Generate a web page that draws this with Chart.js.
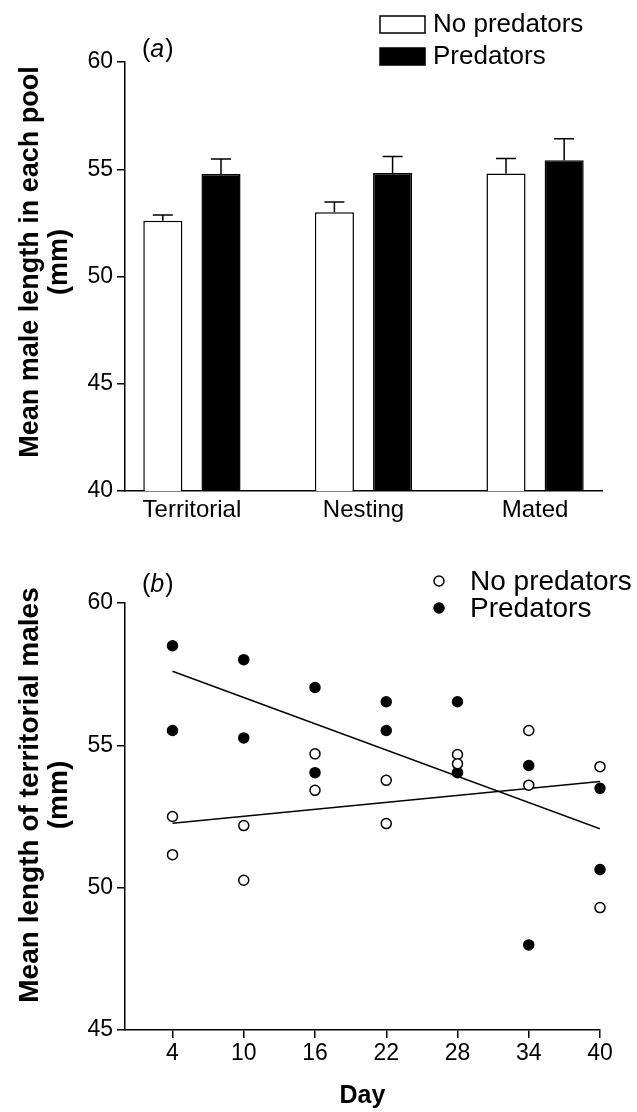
<!DOCTYPE html>
<html>
<head>
<meta charset="utf-8">
<script src="https://cdn.jsdelivr.net/npm/chart.js@4.4.0/dist/chart.umd.min.js"></script>
<style>
  html, body { margin: 0; padding: 0; background: #fff; }
  #caixaA { position: absolute; left: 0; top: 0; width: 637px; height: 545px; }
  #caixaB { position: absolute; left: 0; top: 555px; width: 637px; height: 557px; }
</style>
</head>
<body>
<div id="caixaA"><canvas id="graficoA"></canvas></div>
<div id="caixaB"><canvas id="graficoB"></canvas></div>
<script>
// painel (a): comprimento médio por categoria
const categorias = ["Territorial", "Nesting", "Mated"];
const mediaSemPredador = [52.6, 53.0, 54.8];
const erroSemPredador = [0.27, 0.47, 0.7];
const mediaComPredador = [54.78, 54.83, 55.42];
const erroComPredador = [0.7, 0.77, 1.0];

// painel (b): dois pontos por dia
const dias = [4, 10, 16, 22, 28, 34, 40];
const semPredador1 = [52.5, 52.18, 54.7, 53.77, 54.68, 55.52, 54.25];
const semPredador2 = [51.16, 50.26, 53.42, 52.25, 54.35, 53.6, 49.3];
const comPredador1 = [58.5, 58.01, 57.03, 56.53, 56.53, 54.29, 53.49];
const comPredador2 = [55.52, 55.26, 54.04, 55.52, 54.04, 47.99, 50.64];
// retas de regressao (dia 4 e dia 40)
const diasReta = [4, 40];
const retaSemPredador = [52.26, 53.73];
const retaComPredador = [57.6, 52.07];

const FONTE = '"Liberation Sans", Arial, Helvetica, sans-serif';
const borda = { display: true, color: "#000", width: 1.5 };

function pontos(xs, ...series) {
  const lista = [];
  series.forEach(s => xs.forEach((x, i) => lista.push({ x: x, y: s[i] })));
  return lista;
}

// barras de erro (so para cima, com traco no topo)
const barrasErro = {
  id: "barrasErro",
  afterDatasetsDraw(chart) {
    const { ctx } = chart;
    const y = chart.scales.y;
    ctx.save();
    ctx.strokeStyle = "#000";
    ctx.lineWidth = 1.5;
    chart.data.datasets.forEach((ds, i) => {
      chart.getDatasetMeta(i).data.forEach((barra, j) => {
        const topo = y.getPixelForValue(ds.data[j].y + ds.erros[j]);
        ctx.beginPath();
        ctx.moveTo(barra.x, barra.y);
        ctx.lineTo(barra.x, topo);
        ctx.moveTo(barra.x - 10, topo);
        ctx.lineTo(barra.x + 10, topo);
        ctx.stroke();
      });
    });
    ctx.restore();
  }
};

// rotulo "(a)" / "(b)" com letra em italico
const rotuloPainel = {
  id: "rotuloPainel",
  afterDraw(chart, args, opts) {
    const { ctx } = chart;
    ctx.save();
    ctx.fillStyle = "#000";
    ctx.textBaseline = "middle";
    let x = opts.x;
    ctx.font = "25px " + FONTE;
    ctx.fillText("(", x, opts.y);
    x += ctx.measureText("(").width;
    ctx.font = "italic 25px " + FONTE;
    ctx.fillText(opts.letra, x, opts.y);
    x += ctx.measureText(opts.letra).width + 1;
    ctx.font = "25px " + FONTE;
    ctx.fillText(")", x, opts.y);
    ctx.restore();
  }
};

// titulo do eixo y em duas linhas, girado
const tituloY = {
  id: "tituloY",
  afterDraw(chart, args, opts) {
    const { ctx } = chart;
    ctx.save();
    ctx.fillStyle = "#000";
    ctx.font = "bold " + opts.tamanho + "px " + FONTE;
    ctx.textAlign = "center";
    ctx.textBaseline = "middle";
    opts.linhas.forEach((linha, i) => {
      ctx.save();
      ctx.translate(opts.x + i * opts.entrelinha, opts.centro);
      ctx.rotate(-Math.PI / 2);
      ctx.fillText(linha, 0, 0);
      ctx.restore();
    });
    ctx.restore();
  }
};

const legendaBarras = {
  id: "legendaBarras",
  afterDraw(chart) {
    const { ctx, chartArea } = chart;
    const x0 = chartArea.right - 222;
    ctx.save();
    ctx.font = "26px " + FONTE;
    ctx.textBaseline = "middle";
    chart.data.datasets.forEach((ds, i) => {
      const yc = 24 + i * 32;
      ctx.fillStyle = ds.backgroundColor;
      ctx.strokeStyle = "#000";
      ctx.lineWidth = 1.5;
      ctx.fillRect(x0, yc - 8, 45, 17);
      ctx.strokeRect(x0, yc - 8, 45, 17);
      ctx.fillStyle = "#000";
      ctx.fillText(ds.label, x0 + 53, yc + 1);
    });
    ctx.restore();
  }
};

const legendaPontos = {
  id: "legendaPontos",
  afterDraw(chart) {
    const { ctx, chartArea } = chart;
    const x0 = chartArea.right - 161;
    ctx.save();
    ctx.font = "28px " + FONTE;
    ctx.textBaseline = "middle";
    chart.data.datasets.filter(ds => ds.type === "scatter").forEach((ds, i) => {
      const yc = 26 + i * 27;
      ctx.beginPath();
      ctx.arc(x0, yc, 5, 0, Math.PI * 2);
      ctx.fillStyle = ds.backgroundColor;
      ctx.fill();
      ctx.strokeStyle = "#000";
      ctx.lineWidth = 1.5;
      ctx.stroke();
      ctx.fillStyle = "#000";
      ctx.fillText(ds.label, x0 + 31, yc + 1);
    });
    ctx.restore();
  }
};

function eixoY(min, max) {
  return {
    min: min, max: max,
    ticks: { stepSize: 5, color: "#000", padding: 4, font: { family: FONTE, size: 23 } },
    grid: { drawOnChartArea: false, drawTicks: true, tickLength: 8, color: "#000", lineWidth: 1.5 },
    border: borda,
    afterFit: s => { s.width = 125; }
  };
}

new Chart(document.getElementById("graficoA"), {
  type: "bar",
  data: {
    datasets: [
      {
        label: "No predators",
        data: pontos([0, 1, 2], mediaSemPredador),
        erros: erroSemPredador,
        backgroundColor: "#fff", borderColor: "#000", borderWidth: 1.5,
        categoryPercentage: 0.678, barPercentage: 0.672
      },
      {
        label: "Predators",
        data: pontos([0, 1, 2], mediaComPredador),
        erros: erroComPredador,
        backgroundColor: "#000", borderColor: "#000", borderWidth: 1.5,
        categoryPercentage: 0.678, barPercentage: 0.672
      }
    ]
  },
  options: {
    responsive: true,
    maintainAspectRatio: false,
    animation: false,
    layout: { padding: { top: 62, right: 35, left: 0, bottom: 0 } },
    plugins: {
      legend: { display: false },
      tooltip: { enabled: false },
      rotuloPainel: { letra: "a", x: 142, y: 50 },
      tituloY: { linhas: ["Mean male length in each pool", "(mm)"], tamanho: 27, x: 31, entrelinha: 29, centro: 262 }
    },
    scales: {
      x: {
        type: "linear", min: -0.39, max: 2.39, offset: false,
        afterBuildTicks: s => { s.ticks = categorias.map((c, i) => ({ value: i })); },
        ticks: {
          callback: v => categorias[v], color: "#000", padding: 5,
          autoSkip: false, maxRotation: 0, font: { family: FONTE, size: 24 }
        },
        grid: { display: false, drawTicks: false, offset: false },
        border: borda,
        afterFit: s => { s.height = 54; }
      },
      y: eixoY(40, 60)
    }
  },
  plugins: [barrasErro, rotuloPainel, tituloY, legendaBarras]
});

new Chart(document.getElementById("graficoB"), {
  type: "scatter",
  data: {
    datasets: [
      {
        type: "scatter", label: "No predators", order: 0, clip: false,
        data: pontos(dias, semPredador1, semPredador2),
        backgroundColor: "#fff", borderColor: "#000", borderWidth: 1.5, pointRadius: 5
      },
      {
        type: "scatter", label: "Predators", order: 1, clip: false,
        data: pontos(dias, comPredador1, comPredador2),
        backgroundColor: "#000", borderColor: "#000", borderWidth: 1.5, pointRadius: 5
      },
      {
        type: "line", label: "reta sem predadores", order: 2,
        data: pontos(diasReta, retaSemPredador),
        borderColor: "#000", borderWidth: 1.5, pointRadius: 0, fill: false
      },
      {
        type: "line", label: "reta com predadores", order: 2,
        data: pontos(diasReta, retaComPredador),
        borderColor: "#000", borderWidth: 1.5, pointRadius: 0, fill: false
      }
    ]
  },
  options: {
    responsive: true,
    maintainAspectRatio: false,
    animation: false,
    layout: { padding: { top: 48, right: 37, left: 0, bottom: 0 } },
    plugins: {
      legend: { display: false },
      tooltip: { enabled: false },
      rotuloPainel: { letra: "b", x: 142, y: 30 },
      tituloY: { linhas: ["Mean length of territorial males", "(mm)"], tamanho: 28, x: 30, entrelinha: 29, centro: 240 }
    },
    scales: {
      x: {
        type: "linear", min: 0, max: 40,
        afterBuildTicks: s => { s.ticks = dias.map(d => ({ value: d })); },
        ticks: { color: "#000", padding: 2, autoSkip: false, maxRotation: 0, font: { family: FONTE, size: 23 } },
        grid: { drawOnChartArea: false, drawTicks: true, tickLength: 8, color: "#000", lineWidth: 1.5 },
        border: borda,
        title: {
          display: true, text: "Day", color: "#000",
          font: { family: FONTE, size: 25, weight: "bold" },
          padding: { top: 4, bottom: 1 }
        },
        afterFit: s => { s.height = 82; }
      },
      y: eixoY(45, 60)
    }
  },
  plugins: [rotuloPainel, tituloY, legendaPontos]
});
</script>
</body>
</html>
